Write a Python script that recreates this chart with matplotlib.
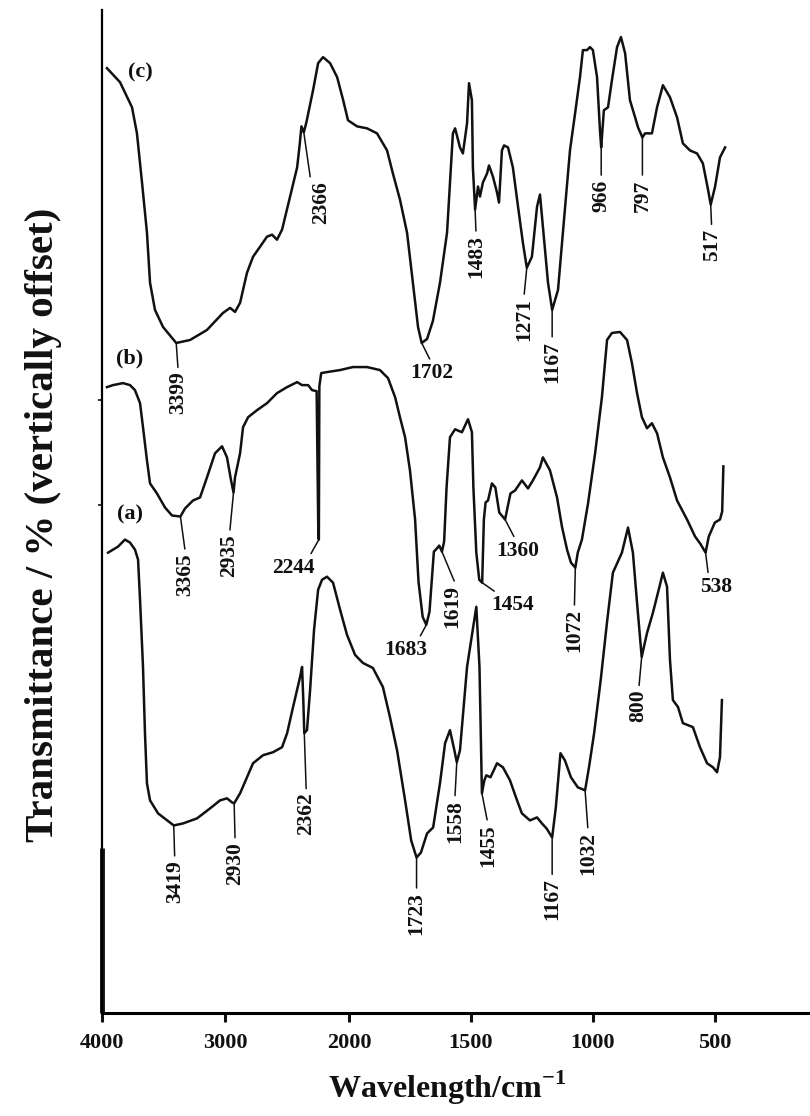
import numpy as np
import matplotlib
matplotlib.use("Agg")
import matplotlib.pyplot as plt

plt.rcParams['font.family'] = ['Liberation Serif', 'DejaVu Serif']
plt.rcParams['font.weight'] = 'bold'
plt.rcParams['mathtext.fontset'] = 'custom'
plt.rcParams['mathtext.rm'] = 'Liberation Serif:bold'
plt.rcParams['mathtext.bf'] = 'Liberation Serif:bold'

# spectrum (c)
wn_c = [3960, 3854, 3757, 3717, 3676, 3636, 3611, 3571, 3506, 3399,
        3287, 3150, 3020, 2963, 2923, 2882, 2826, 2777, 2720, 2664,
        2623, 2583, 2542, 2477, 2420, 2400, 2385, 2366, 2345, 2291,
        2250, 2210, 2153, 2096, 2047, 2008, 1967, 1926, 1885, 1844,
        1820, 1791, 1762, 1738, 1717, 1702, 1680, 1656, 1627, 1598,
        1574, 1565, 1545, 1533, 1516, 1508, 1496, 1492, 1483, 1471,
        1463, 1451, 1434, 1426, 1410, 1393, 1385, 1373, 1364, 1348,
        1328, 1307, 1287, 1271, 1250, 1229, 1217, 1205, 1184, 1167,
        1143, 1123, 1094, 1073, 1053, 1041, 1024, 1012, 1000, 983,
        971, 966, 955, 938, 922, 901, 885, 868, 848, 827,
        815, 797, 786, 758, 737, 713, 684, 655, 631, 602,
        573, 549, 528, 517, 499, 479, 458]
tr_c = [94.2, 92.8, 90.3, 87.7, 82.8, 77.8, 72.8, 70.1, 68.4, 66.8,
        67.1, 68.1, 69.8, 70.3, 69.9, 70.8, 73.8, 75.4, 76.4, 77.4,
        77.6, 77.1, 78.1, 81.4, 84.3, 86.5, 88.4, 87.8, 88.8, 92.0,
        94.7, 95.3, 94.7, 93.3, 91.0, 89.0, 88.4, 88.2, 87.7, 86.0,
        83.7, 81.1, 77.8, 72.8, 68.4, 66.8, 67.2, 69.0, 72.8, 77.8,
        87.7, 88.2, 86.3, 85.7, 88.7, 92.7, 91.0, 84.3, 80.1, 82.4,
        81.4, 82.8, 83.7, 84.5, 83.4, 81.8, 80.8, 86.0, 86.5, 86.3,
        84.3, 80.4, 76.8, 74.3, 75.4, 80.4, 81.6, 78.4, 72.8, 70.1,
        72.1, 77.8, 86.0, 89.7, 93.3, 96.0, 96.0, 96.3, 96.0, 93.3,
        88.0, 86.3, 90.0, 90.3, 93.0, 96.3, 97.3, 95.7, 91.0, 89.3,
        88.3, 87.3, 87.7, 87.7, 90.3, 92.5, 91.3, 89.3, 86.7, 86.0,
        85.7, 84.7, 82.1, 80.6, 82.4, 85.3, 86.3]

# spectrum (b)
wn_b = [3960, 3911, 3830, 3773, 3733, 3692, 3668, 3636, 3611, 3555,
        3490, 3433, 3365, 3328, 3263, 3206, 3150, 3085, 3028, 2988,
        2955, 2935, 2923, 2882, 2858, 2817, 2745, 2664, 2583, 2502,
        2420, 2380, 2331, 2299, 2262, 2248, 2244, 2240, 2225, 2178,
        2073, 1984, 1926, 1873, 1840, 1811, 1791, 1770, 1750, 1729,
        1715, 1698, 1683, 1670, 1652, 1640, 1630, 1619, 1610, 1600,
        1586, 1565, 1537, 1512, 1496, 1490, 1478, 1466, 1454, 1447,
        1440, 1430, 1414, 1400, 1384, 1360, 1350, 1338, 1319, 1291,
        1266, 1246, 1217, 1205, 1176, 1147, 1127, 1106, 1090, 1072,
        1062, 1045, 1020, 991, 963, 942, 922, 889, 860, 840,
        819, 799, 778, 758, 737, 713, 684, 655, 614, 581,
        560, 538, 525, 500, 479, 470, 465]
tr_b = [62.4, 62.6, 62.8, 62.6, 62.1, 60.8, 58.4, 55.1, 52.8, 51.8,
        50.4, 49.6, 49.5, 50.3, 51.1, 51.4, 53.4, 55.8, 56.5, 55.4,
        53.1, 51.9, 53.4, 55.8, 58.4, 59.4, 60.1, 60.8, 61.8, 62.4,
        62.9, 62.6, 62.6, 62.1, 62.0, 47.5, 47.2, 62.5, 63.8, 63.9,
        64.1, 64.4, 64.4, 64.1, 63.3, 61.4, 59.4, 57.4, 54.1, 49.2,
        43.0, 39.5, 38.7, 40.0, 46.0, 46.3, 46.6, 46.0, 47.0, 52.4,
        57.4, 58.2, 57.9, 59.2, 57.9, 52.4, 45.9, 43.2, 42.9, 49.2,
        50.9, 51.1, 52.8, 52.4, 49.9, 49.2, 50.4, 51.8, 52.1, 53.1,
        52.3, 53.1, 54.4, 55.4, 54.1, 51.4, 48.5, 46.2, 44.9, 44.4,
        45.9, 47.2, 50.8, 55.8, 61.4, 67.1, 67.8, 67.9, 67.1, 64.8,
        61.8, 59.4, 58.3, 58.8, 57.8, 55.4, 53.4, 51.1, 49.2, 47.5,
        46.8, 45.9, 47.5, 48.9, 49.2, 50.0, 54.5]

# spectrum (a)
wn_a = [3951, 3870, 3814, 3773, 3733, 3708, 3692, 3668, 3652, 3636,
        3611, 3546, 3419, 3344, 3231, 3125, 3044, 2988, 2947, 2930,
        2882, 2826, 2777, 2696, 2615, 2542, 2501, 2453, 2396, 2380,
        2370, 2362, 2340, 2315, 2283, 2250, 2218, 2178, 2129, 2072,
        2016, 1975, 1943, 1902, 1861, 1832, 1803, 1770, 1745, 1723,
        1705, 1680, 1655, 1627, 1606, 1586, 1568, 1558, 1545, 1516,
        1478, 1465, 1455, 1445, 1437, 1420, 1393, 1369, 1340, 1311,
        1291, 1258, 1229, 1209, 1190, 1167, 1152, 1133, 1115, 1090,
        1062, 1032, 1016, 995, 968, 942, 918, 881, 856, 836,
        819, 800, 778, 754, 725, 713, 696, 684, 672, 651,
        631, 590, 561, 532, 508, 491, 479, 471]
tr_a = [45.9, 46.5, 47.2, 46.9, 46.2, 45.2, 41.2, 34.5, 27.9, 22.9,
        21.2, 19.9, 18.7, 18.9, 19.4, 20.4, 21.2, 21.4, 21.0, 20.9,
        21.9, 23.5, 24.9, 25.7, 26.0, 26.5, 27.9, 30.5, 33.5, 34.5,
        31.2, 27.9, 28.2, 32.2, 38.2, 42.2, 43.2, 43.5, 42.9, 40.2,
        37.7, 35.7, 34.9, 34.4, 32.5, 29.5, 26.2, 21.2, 17.2, 15.5,
        16.0, 17.9, 18.5, 22.9, 26.9, 28.2, 26.2, 25.0, 26.2, 34.5,
        40.5, 34.5, 21.9, 23.2, 23.7, 23.5, 24.9, 24.5, 23.2, 21.2,
        19.9, 19.2, 19.5, 18.9, 18.4, 17.5, 20.5, 25.9, 25.2, 23.5,
        22.5, 22.2, 24.5, 27.9, 33.2, 39.0, 43.9, 45.9, 48.4, 45.9,
        40.9, 35.5, 37.9, 39.9, 42.7, 43.9, 42.5, 35.2, 31.2, 30.5,
        28.9, 28.5, 26.5, 24.9, 24.5, 24.0, 25.5, 31.2]

# assigned band positions
peaks_c = [3399, 2366, 1702, 1483, 1271, 1167, 966, 797, 517]
peaks_b = [3365, 2935, 2244, 1683, 1619, 1454, 1360, 1072, 538]
peaks_a = [3419, 2930, 2362, 1723, 1558, 1455, 1167, 1032, 800]

xticks = [4000, 3000, 2000, 1500, 1000, 500]

# label placement: (dx px, dy px, rotation, arrow anchor on text)
V = (0.5, 1.0)
place_c = [(2, -50, 90, V), (17, -70, 90, (0.0, 1.0)), (10, -30, 0, V),
           (1, -47, 90, V), (-3, -52, 90, V), (0, -52, 90, V),
           (0, -48, 90, V), (0, -58, 90, V), (1, -40, 90, V)]
place_b = [(5, -58, 90, V), (-4, -63, 90, V), (-25, -28, 0, (0.85, 1.0)),
           (-21, -25, 0, (0.8, 1.0)), (10, -55, 90, (0.7, 1.0)),
           (30, -22, 0, (0.2, 1.0)), (13, -31, 0, (0.45, 1.0)),
           (-1, -63, 90, V), (11, -34, 0, (0.25, 1.0))]
place_a = [(1, -56, 90, V), (1, -60, 90, V), (2, -81, 90, V),
           (0, -56, 90, V), (-2, -59, 90, V), (6, -52, 90, V),
           (0, -62, 90, V), (3, -63, 90, V), (-3, -49, 90, V)]

# wavenumber axis: below 2000 cm-1 the scale is expanded
BREAK = 2000.0
STRETCH = 1.975


def fwd(w):
    w = np.asarray(w, dtype=float)
    return np.where(w >= BREAK, w, BREAK - (BREAK - w) * STRETCH)


def inv(u):
    u = np.asarray(u, dtype=float)
    return np.where(u >= BREAK, u, BREAK - (BREAK - u) / STRETCH)


fig = plt.figure(figsize=(8.1, 11.16), dpi=100)
ax = fig.add_axes([102 / 810, 103 / 1116, 707 / 810, 1003 / 1116])
ax.set_xscale('function', functions=(fwd, inv))
ax.set_xlim(4000, 114)
ax.set_ylim(0, 100)

ink = '#111111'


def label_peaks(wn, tr, peaks, place):
    w_up = np.asarray(wn, float)[::-1]
    t_up = np.asarray(tr, float)[::-1]
    for p, (dx, dy, rot, rel) in zip(peaks, place):
        y = np.interp(p, w_up, t_up)
        ax.annotate(str(p), xy=(p, y), xytext=(dx, dy), textcoords='offset pixels',
                    rotation=rot, ha='center', va='center', fontsize=15.5,
                    fontweight='bold', color=ink,
                    arrowprops=dict(arrowstyle='-', lw=1.1, color=ink,
                                    shrinkA=1, shrinkB=0, relpos=rel))


for wn, tr, peaks, place in [(wn_c, tr_c, peaks_c, place_c),
                             (wn_b, tr_b, peaks_b, place_b),
                             (wn_a, tr_a, peaks_a, place_a)]:
    ax.plot(wn, tr, color=ink, lw=1.8, solid_joinstyle='round')
    label_peaks(wn, tr, peaks, place)

ax.text(3692, 93.8, '(c)', ha='center', va='center', fontsize=16, color=ink)
ax.text(3773, 65.3, '(b)', ha='center', va='center', fontsize=16, color=ink)
ax.text(3773, 49.7, '(a)', ha='center', va='center', fontsize=16, color=ink)

ax.set_xticks(xticks)
ax.set_xticklabels([str(t) for t in xticks])
ax.tick_params(axis='x', direction='out', length=6.5, width=2.2, pad=8,
               labelsize=16, colors=ink)
ax.set_yticks([50.6, 61.1])
ax.set_yticklabels([])
ax.tick_params(axis='y', direction='out', length=3, width=1.2, colors=ink)

for side in ['top', 'right']:
    ax.spines[side].set_visible(False)
ax.spines['bottom'].set_linewidth(2.2)
ax.spines['left'].set_linewidth(1.6)
ax.plot([0, 0], [0, 0.1645], transform=ax.transAxes, color=ink, lw=3.5,
        clip_on=False, solid_capstyle='butt')

ax.set_xlabel(r'Wavelength/cm$^{\mathbf{-1}}$', fontsize=23, fontweight='bold',
              va='center', color=ink)
ax.xaxis.set_label_coords(0.488, -0.0748)
ax.set_ylabel('Transmittance / % (vertically offset)', fontsize=29.5,
              fontweight='bold', va='center', color=ink)
ax.yaxis.set_label_coords(-0.083, 0.487)

fig.savefig('out.png', dpi=100)
